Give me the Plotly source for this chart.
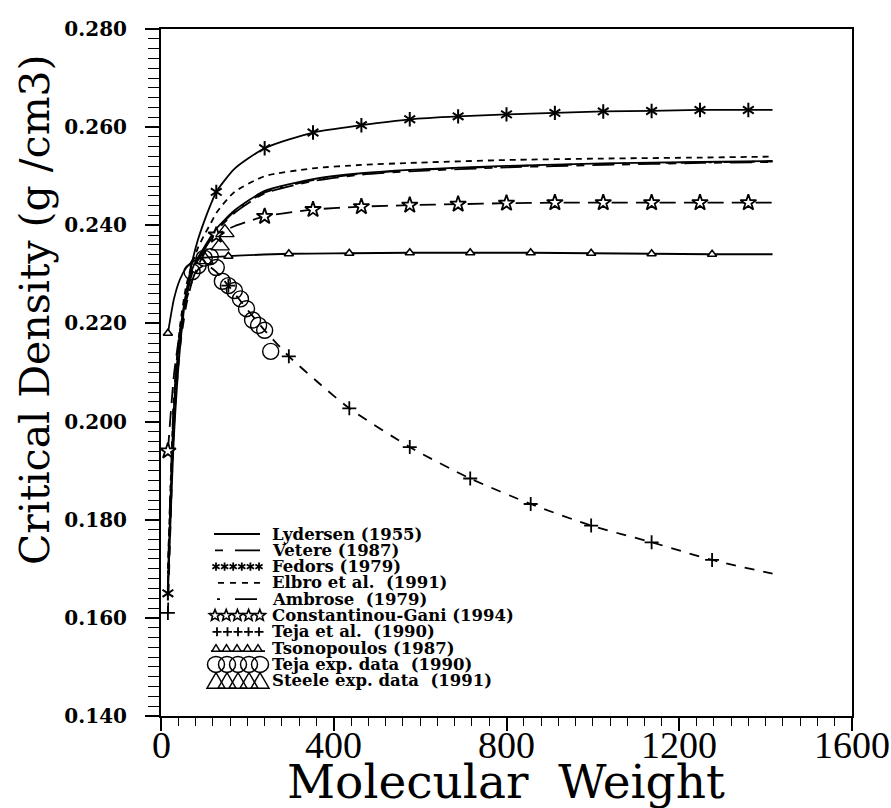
import math
import plotly.graph_objects as go

# ---------------- data ----------------
X_RANGE = [0, 1600]
Y_RANGE = [0.140, 0.280]
X_TICKS = [0, 400, 800, 1200, 1600]
X_TICK_LABELS = ["0", "400", "800", "1200", "1600"]

LYD_MW = [16, 30, 44, 58, 72, 86, 100, 114, 128, 170, 240, 352, 464, 576, 800, 1024, 1248, 1416]
LYD = [0.1660, 0.2030, 0.2180, 0.2260, 0.2310, 0.2335, 0.2355, 0.2375, 0.2393, 0.2430,
       0.2470, 0.2494, 0.2506, 0.2513, 0.2521, 0.2526, 0.2529, 0.2531]

VET_MW = [16, 30, 44, 58, 72, 86, 100, 114, 128, 170, 240, 352, 464, 576, 800, 1024, 1248, 1416]
VET = [0.1670, 0.2010, 0.2165, 0.2250, 0.2302, 0.2330, 0.2350, 0.2370, 0.2388, 0.2425,
       0.2465, 0.2490, 0.2503, 0.2510, 0.2518, 0.2523, 0.2527, 0.2529]

AMB_MW = [16, 30, 44, 58, 72, 86, 100, 114, 128, 170, 240, 352, 464, 576, 800, 1024, 1248, 1416]
AMB = [0.1690, 0.2045, 0.2180, 0.2255, 0.2305, 0.2332, 0.2352, 0.2372, 0.2390, 0.2428,
       0.2467, 0.2492, 0.2505, 0.2512, 0.2520, 0.2525, 0.2528, 0.2530]

ELB_MW = [16, 30, 44, 58, 72, 86, 100, 114, 128, 170, 240, 352, 464, 576, 800, 1024, 1248, 1416]
ELB = [0.1700, 0.2050, 0.2195, 0.2275, 0.2322, 0.2355, 0.2380, 0.2402, 0.2425, 0.2468,
       0.2500, 0.2516, 0.2523, 0.2527, 0.2533, 0.2536, 0.2538, 0.2540]

FED_MW = [16, 30, 44, 58, 72, 86, 100, 114, 128, 170, 240, 352, 464, 576, 688, 800,
          912, 1024, 1136, 1248, 1360, 1416]
FED = [0.1650, 0.1970, 0.2150, 0.2260, 0.2325, 0.2372, 0.2408, 0.2440, 0.2468, 0.2515,
       0.2557, 0.2589, 0.2604, 0.2616, 0.2622, 0.2626, 0.2629, 0.2632, 0.2633, 0.2635,
       0.2635, 0.2635]
FED_MARK_MW = [16, 128, 240, 352, 464, 576, 688, 800, 912, 1024, 1136, 1248, 1360]

CG_MW = [16, 30, 44, 58, 72, 86, 100, 114, 128, 170, 240, 352, 464, 576, 688, 800,
         912, 1024, 1136, 1248, 1360, 1416]
CG = [0.1940, 0.2095, 0.2185, 0.2245, 0.2287, 0.2318, 0.2342, 0.2362, 0.2380, 0.2398,
      0.2418, 0.2432, 0.2438, 0.2441, 0.2443, 0.2445, 0.2446, 0.2446, 0.2446, 0.2446,
      0.2446, 0.2446]
CG_MARK_MW = [16, 128, 240, 352, 464, 576, 688, 800, 912, 1024, 1136, 1248, 1360]

TEJ_MW = [16, 30, 44, 58, 72, 86, 100, 114, 128, 156, 200, 240, 296, 366, 436, 576,
          716, 856, 996, 1136, 1276, 1416]
TEJ = [0.1610, 0.1990, 0.2150, 0.2235, 0.2285, 0.2310, 0.2318, 0.2315, 0.2305, 0.2277,
       0.2228, 0.2186, 0.2133, 0.2078, 0.2027, 0.1948, 0.1884, 0.1832, 0.1788, 0.1754,
       0.1718, 0.1690]
TEJ_MARK_MW = [16, 156, 296, 436, 576, 716, 856, 996, 1136, 1276]

TSO_MW = [16, 30, 44, 58, 72, 86, 100, 156, 296, 436, 576, 716, 856, 996, 1136, 1276, 1416]
TSO = [0.2180, 0.2250, 0.2290, 0.2313, 0.2325, 0.2331, 0.2334, 0.2337, 0.2342, 0.2343,
       0.2344, 0.2344, 0.2344, 0.2343, 0.2342, 0.2341, 0.2341]
TSO_MARK_MW = [16, 156, 296, 436, 576, 716, 856, 996, 1136, 1276]

TEJA_EXP_MW = [72, 86, 100, 114, 128, 142, 156, 170, 184, 198, 212, 226, 240, 254]
TEJA_EXP = [0.2305, 0.2318, 0.2333, 0.2336, 0.2314, 0.2286, 0.2277, 0.2267, 0.2250,
            0.2230, 0.2207, 0.2196, 0.2186, 0.2143]

STEELE_MW = [100, 137, 148]
STEELE = [0.2330, 0.2358, 0.2385]

LEGEND_LABELS = [
    "Lydersen (1955)", "Vetere (1987)", "Fedors (1979)", "Elbro et al.  (1991)",
    "Ambrose  (1979)", "Constantinou-Gani (1994)", "Teja et al.  (1990)",
    "Tsonopoulos (1987)", "Teja exp. data  (1990)", "Steele exp. data  (1991)",
]

X_TITLE = "Molecular  Weight"
Y_TITLE = "Critical Density (g /cm3)"

# ---------------- layout geometry (pixels) ----------------
W, H = 891, 808
L, R, T, B = 161, 852, 29, 716

DASH_VET = "8px,8px,22px,8px"
DASH_ELB = "6px,5px"
DASH_AMB = "3px,12px,20px,8px"
DASH_CG = "16px,8px"
DASH_TEJ = "10px,9px"


def px2x(px):
    return (px - L) / (R - L)


def py2y(py):
    return (B - py) / (B - T)


def pick(mw_all, val_all, mw_sel):
    d = dict(zip(mw_all, val_all))
    return [d[m] for m in mw_sel]


fig = go.Figure()
LW = 1.8
BLK = "black"


def line(xs, ys, dash="solid"):
    fig.add_trace(go.Scatter(x=xs, y=ys, mode="lines", showlegend=False,
                             line=dict(color=BLK, width=LW, dash=dash, shape="spline",
                                       smoothing=0.6)))


def marks(xs, ys, symbol, size, lw=1.5, fill=BLK):
    fig.add_trace(go.Scatter(x=xs, y=ys, mode="markers", showlegend=False,
                             marker=dict(symbol=symbol, size=size, color=fill,
                                         line=dict(color=BLK, width=lw))))


line(LYD_MW, LYD)
line(VET_MW, VET, DASH_VET)
line(AMB_MW, AMB, DASH_AMB)
line(ELB_MW, ELB, DASH_ELB)
line(FED_MW, FED)
fed_y = pick(FED_MW, FED, FED_MARK_MW)
marks(FED_MARK_MW, fed_y, "y-up-open", 9, 2)
marks(FED_MARK_MW, fed_y, "y-down-open", 9, 2)
line(CG_MW, CG, DASH_CG)
marks(CG_MARK_MW, pick(CG_MW, CG, CG_MARK_MW), "star", 12, 1.8, "white")
line(TEJ_MW, TEJ, DASH_TEJ)
marks(TEJ_MARK_MW, pick(TEJ_MW, TEJ, TEJ_MARK_MW), "cross-thin-open", 10, 1.8)
line(TSO_MW, TSO)
marks(TSO_MARK_MW, pick(TSO_MW, TSO, TSO_MARK_MW), "triangle-up", 8, 1.6, "white")
marks(TEJA_EXP_MW, TEJA_EXP, "circle-open", 16, 1.4)
marks(STEELE_MW, STEELE, "triangle-up-open", 16, 1.4)

# ---------------- hand-drawn legend (as in the original figure) ----------------
shapes = []
annotations = []
LEG_Y0, LEG_DY = 534, 16.3
SX0, SX1, TX = 214, 260, 270
LEG_FONT = dict(family="DejaVu Serif", size=16.5, color=BLK, weight="bold")
rows = [LEG_Y0 + i * LEG_DY for i in range(len(LEGEND_LABELS))]

for cy, lab in zip(rows, LEGEND_LABELS):
    annotations.append(dict(text=lab.replace("  ", "\u00a0\u00a0"), x=px2x(TX), y=py2y(cy),
                            xref="paper", yref="paper", xanchor="left", yanchor="middle",
                            showarrow=False, font=LEG_FONT))


def seg(cy, dash, x0=SX0, x1=SX1):
    shapes.append(dict(type="line", xref="paper", yref="paper", x0=px2x(x0), x1=px2x(x1),
                       y0=py2y(cy), y1=py2y(cy), line=dict(color=BLK, width=1.8, dash=dash)))


def icon(cx, cy, path, lw=1.5, fill=None):
    s = dict(type="path", xref="paper", yref="paper", xsizemode="pixel", ysizemode="pixel",
             xanchor=px2x(cx), yanchor=py2y(cy), path=path, line=dict(color=BLK, width=lw))
    if fill:
        s["fillcolor"] = fill
    shapes.append(s)


def star_path(ro, ri):
    pts = []
    for j in range(10):
        r = ro if j % 2 == 0 else ri
        a = math.pi / 2 + j * math.pi / 5
        pts.append("%.2f,%.2f" % (r * math.cos(a), r * math.sin(a)))
    return "M" + " L".join(pts) + " Z"


def asterisk_path(r):
    parts = []
    for a_deg in (90, 30, 150):
        a = math.radians(a_deg)
        dx, dy = r * math.cos(a), r * math.sin(a)
        parts.append("M%.2f,%.2f L%.2f,%.2f" % (-dx, -dy, dx, dy))
    return " ".join(parts)


seg(rows[0], "solid")
seg(rows[1], "8px,12px,25px", x0=215)
for k in range(6):
    icon(216 + k * 8.6, rows[2], asterisk_path(4.2), lw=1.8)
seg(rows[3], "6px,6px", x0=218)
seg(rows[4], "3px,15px,22px", x0=217)
for k in range(5):
    icon(215 + k * 11.2, rows[5], star_path(6.0, 2.6), lw=1.6, fill="white")
for k in range(5):
    icon(217 + k * 10.5, rows[6], "M-4.5,0 L4.5,0 M0,-4.5 L0,4.5", lw=1.8)
seg(rows[7] + 3, "solid", x0=211, x1=265)
for k in range(5):
    icon(216 + k * 10.5, rows[7] + 3, "M-4,0 L4,0 L0,6.5 Z", lw=1.4, fill="white")
for k in range(5):
    cx = 216 + k * 11
    shapes.append(dict(type="circle", xref="paper", yref="paper", xsizemode="pixel",
                       ysizemode="pixel", xanchor=px2x(cx), yanchor=py2y(rows[8]),
                       x0=-8.5, x1=8.5, y0=-8, y1=8, line=dict(color=BLK, width=1.5)))
    icon(cx, rows[9], "M-9,-7.5 L9,-7.5 L0,8 Z", lw=1.5)

# x tick labels placed just below the tick marks, as in the original
for xv, xt in zip(X_TICKS, X_TICK_LABELS):
    annotations.append(dict(text=xt, x=xv, y=py2y(745), xref="x", yref="paper",
                            xanchor="center", yanchor="middle", showarrow=False,
                            font=dict(family="Liberation Serif", size=38, color=BLK)))

# axis titles
annotations.append(dict(text=X_TITLE.replace("  ", "\u00a0\u00a0"), x=px2x(506), y=py2y(781),
                        xref="paper", yref="paper", xanchor="center", yanchor="middle",
                        showarrow=False, font=dict(family="DejaVu Serif", size=47, color=BLK)))
annotations.append(dict(text=Y_TITLE, x=px2x(35), y=py2y(310), xref="paper", yref="paper",
                        xanchor="center", yanchor="middle", textangle=-90,
                        showarrow=False, font=dict(family="DejaVu Serif", size=41, color=BLK)))

fig.update_layout(
    width=W, height=H,
    margin=dict(l=L, r=W - R, t=T, b=H - B, pad=0),
    paper_bgcolor="white", plot_bgcolor="white",
    showlegend=False,
    shapes=shapes, annotations=annotations,
)
fig.update_xaxes(range=X_RANGE, tickmode="array", tickvals=X_TICKS, showticklabels=False,
                 showline=True, linewidth=2, linecolor=BLK, mirror=True,
                 ticks="outside", ticklen=13, tickwidth=1.6, tickcolor=BLK,
                 showgrid=False, zeroline=False,
                 minor=dict(dtick=40, tick0=0, ticks="outside", ticklen=8, tickwidth=1.4,
                            tickcolor=BLK, showgrid=False))
fig.update_yaxes(range=Y_RANGE, tickmode="linear", tick0=0.14, dtick=0.02, tickformat=".3f",
                 showline=True, linewidth=2, linecolor=BLK, mirror=True,
                 ticks="outside", ticklen=14, tickwidth=1.6, tickcolor=BLK,
                 showgrid=False, zeroline=False, ticklabelstandoff=14,
                 tickfont=dict(family="DejaVu Serif", size=20, color=BLK, weight="bold"),
                 minor=dict(dtick=0.002, tick0=0.14, ticks="outside", ticklen=11,
                            tickwidth=1.4, tickcolor=BLK, showgrid=False))

fig.write_html("out.html")
